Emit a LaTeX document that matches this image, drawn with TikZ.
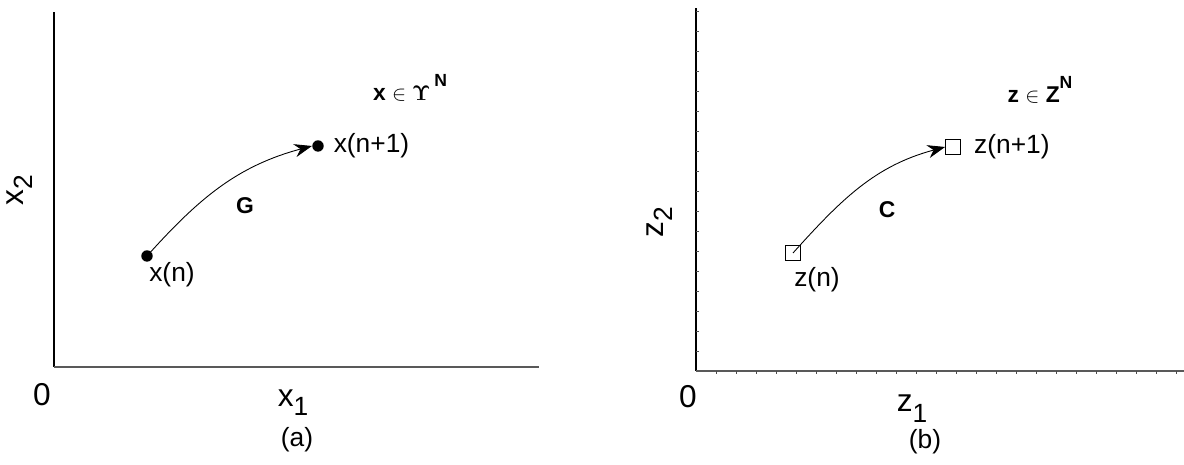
\documentclass[tikz,border=0pt]{standalone}
\usepackage{amsmath}
\usepackage[no-math]{fontspec}
\setmainfont{Liberation Sans}
\usetikzlibrary{arrows.meta, positioning}

\begin{document}
\begin{tikzpicture}[
    x=0.02cm, y=0.02cm,
    dot/.style={circle, fill, inner sep=0pt, minimum size=6.5pt},
    sqr/.style={rectangle, draw, inner sep=0pt, minimum size=8.5pt, line width=0.5pt},
    ptlabel/.style={font=\fontsize{15}{15}\selectfont},
    axlabel/.style={font=\fontsize{18}{18}\selectfont},
    maplabel/.style={font=\bfseries\fontsize{13}{13}\selectfont},
    setlabel/.style={font=\bfseries\fontsize{13}{13}\selectfont},
    yaxis/.style={line width=0.6pt},
    xaxis/.style={line width=1.1pt, black!65},
    map/.style={-{Stealth[length=10pt, width=7.5pt]}, line width=0.5pt}
]
\useasboundingbox (0,0) rectangle (1184,465);

% PANEL (a): STATE SPACE X
\coordinate (O1) at (54,98);
\draw[yaxis] (O1) -- (54,453);
\draw[xaxis] (O1) -- (539,98);
\node[axlabel] (zeroA) at (42,70) {0};
\node[axlabel] (x1) at (293,62) {x\raisebox{-0.55ex}{\fontsize{15}{15}\selectfont 1}};
\node[axlabel, rotate=90] (x2) at (20,275) {x\raisebox{-0.55ex}{\fontsize{15}{15}\selectfont 2}};
\node[ptlabel] (capA) at (297,25) {(a)};

\node[dot] (xn) at (147,209) {};
\node[dot] (xn1) at (318,319) {};
\node[ptlabel] (xnL) at (172,190) {x(n)};
\node[ptlabel, right=2pt of xn1] (xn1L) {x(n+1)};
\node[maplabel] (G) at (245,259) {G};
\node[setlabel] (setX) at (410,377) {x $\in\mathbf{\Upsilon}$\,\raisebox{1.1ex}{\fontsize{10}{10}\selectfont N}};

\draw[map] (xn.center) to[out=48, in=195] (xn1.west);

% PANEL (b): STATE SPACE Z
\coordinate (O2) at (696,94);
\draw[yaxis] (O2) -- (696,457);
\draw[xaxis] (O2) -- (1184,94);
\foreach \t in {716,736,...,1184} \draw[black!70, line width=0.4pt] (\t,94) -- (\t,91);
\foreach \t in {114,134,...,457} \draw[black!70, line width=0.4pt] (696,\t) -- (698.5,\t);
\node[axlabel] (zeroB) at (688,68) {0};
\node[axlabel] (z1) at (912,56) {z\raisebox{-0.65ex}{\fontsize{15}{15}\selectfont 1}};
\node[axlabel, rotate=90] (z2) at (660,243) {z\raisebox{-0.55ex}{\fontsize{15}{15}\selectfont 2}};
\node[ptlabel] (capB) at (925,23) {(b)};

\node[sqr] (zn) at (793,212) {};
\node[sqr] (zn1) at (953,318) {};
\node[ptlabel] (znL) at (817,185) {z(n)};
\node[ptlabel, right=4pt of zn1] (zn1L) {z(n+1)};
\node[maplabel] (C) at (887,255) {C};
\node[setlabel] (setZ) at (1040,375) {z $\in$ Z\raisebox{1.1ex}{\fontsize{10}{10}\selectfont N}};

\draw[map] (zn.center) to[out=48, in=195] (zn1.west);

\end{tikzpicture}
\end{document}
